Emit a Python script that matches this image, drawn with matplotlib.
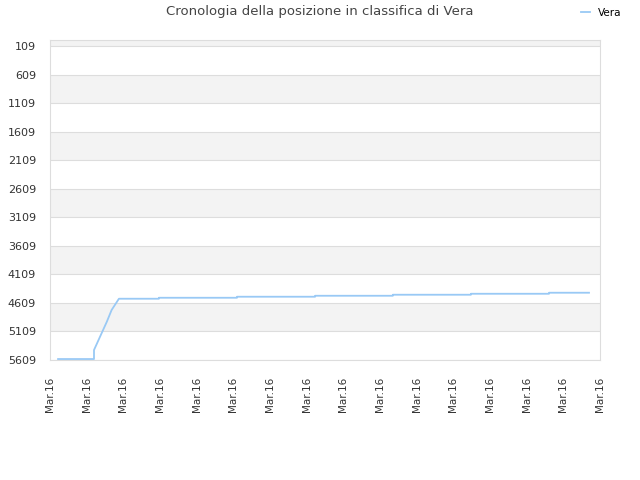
import matplotlib
matplotlib.use("Agg")
import matplotlib.pyplot as plt

# Data (x in tick-index units, rank values)
x_vals = [0.22, 1.20, 1.20, 1.55, 1.68, 1.88, 2.97, 2.97, 5.10, 5.10, 7.23, 7.23,
          9.35, 9.35, 11.48, 11.48, 13.61, 13.61, 14.70]
ranks = [5592, 5592, 5434, 4938, 4733, 4535, 4535, 4518, 4518, 4500, 4500, 4483,
         4483, 4465, 4465, 4448, 4448, 4430, 4430]
y_ticks = [109, 609, 1109, 1609, 2109, 2609, 3109, 3609, 4109, 4609, 5109, 5609]
x_labels = ["Mar.16"] * 16
series_name = "Vera"
title = "Cronologia della posizione in classifica di Vera"

fig = plt.figure(figsize=(6.4, 4.8), dpi=100)
ax = fig.add_axes([50/640, 120/480, 550/640, 320/480])

ax.set_xlim(0, 15)
ax.set_ylim(5609, 0)

# alternating bands
bounds = [0] + y_ticks
for i in range(len(bounds) - 1):
    if i % 2 == 0:
        ax.axhspan(bounds[i], bounds[i+1], color="#f3f3f3", zorder=0, lw=0)
for t in y_ticks:
    ax.axhline(t, color="#dddddd", lw=0.8, zorder=1)

ax.plot(x_vals, ranks, color="#99c9f5", lw=1.3, zorder=3, label=series_name)

ax.set_yticks(y_ticks)
ax.set_yticklabels([str(v) for v in y_ticks], fontsize=8, color="#333333")
ax.set_xticks(range(16))
ax.set_xticklabels(x_labels, rotation=90, fontsize=7.5, color="#333333")
ax.tick_params(axis="both", length=0, pad=10)
ax.tick_params(axis="x", pad=12)

for s in ax.spines.values():
    s.set_color("#dddddd")
    s.set_linewidth(0.8)

fig.text(0.5, 1 - 12/480, title, ha="center", va="center", fontsize=9.5, color="#444444")
fig.legend(loc="upper right", bbox_to_anchor=(0.986, 1.003), frameon=False, fontsize=7.5,
           handlelength=0.8, handletextpad=0.8)

fig.savefig("out.png", dpi=100)
